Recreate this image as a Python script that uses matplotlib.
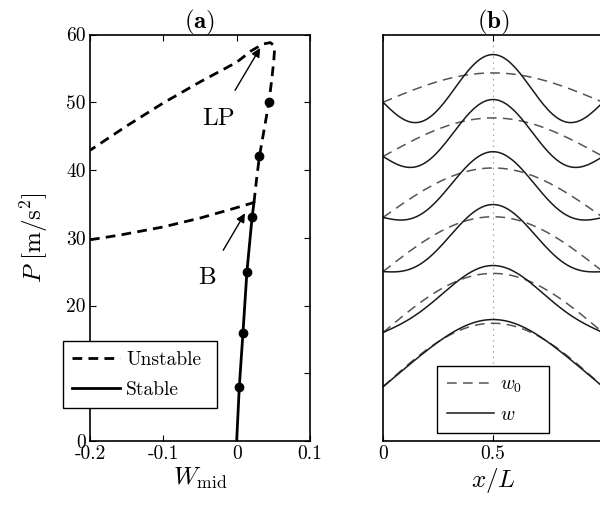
import numpy as np
import matplotlib
matplotlib.use("Agg")
import matplotlib.pyplot as plt

plt.rcParams['font.family'] = 'serif'
plt.rcParams['font.serif'] = ['cmr10', 'DejaVu Serif']
plt.rcParams['mathtext.fontset'] = 'cm'
plt.rcParams['axes.unicode_minus'] = False
plt.rcParams['axes.formatter.use_mathtext'] = True
plt.rcParams['lines.scale_dashes'] = False

# ---------------- data: panel (a) ----------------
stable_W = [0.0, 0.0036, 0.0086, 0.014, 0.021, 0.0236]
stable_P = [0.0, 8.0, 16.0, 25.0, 33.0, 35.2]

unstable_W = [0.0236, 0.027, 0.031, 0.0375, 0.044, 0.048, 0.0505, 0.0515, 0.0505,
              0.046, 0.036, 0.02, 0.0, -0.05, -0.1, -0.15, -0.2]
unstable_P = [35.2, 38.5, 42.0, 46.0, 50.0, 53.5, 56.0, 57.5, 58.4,
              58.8, 58.6, 57.6, 55.9, 53.0, 49.9, 46.5, 42.9]

branch_W = [-0.2, -0.159, -0.1, -0.05, -0.0046, 0.0236]
branch_P = [29.7, 30.4, 31.6, 32.9, 34.3, 35.2]

dots_W = [0.0036, 0.0086, 0.014, 0.021, 0.031, 0.044]
dots_P = [8, 16, 25, 33, 42, 50]

xticks_a = [-0.2, -0.1, 0.0, 0.1]
xticklabels_a = ['-0.2', '-0.1', '0', '0.1']
yticks_a = [0, 10, 20, 30, 40, 50, 60]
yticklabels_a = ['0', '10', '20', '30', '40', '50', '60']

# ---------------- data: panel (b) ----------------
shape_P = [8, 16, 25, 33, 42, 50]          # vertical offset of each pair (load level)
w_mode1 = [9.63, 8.6, 7.3, 6.7, 4.7, 2.74]  # sin(pi x) amplitude of w
w_mode3 = [0.3, 1.3, 2.6, 3.0, 3.7, 4.3]    # -sin(3 pi x) amplitude of w
w0_amp = [9.38, 8.74, 8.1, 7.3, 5.69, 4.33] # sin(pi x) amplitude of w0

xticks_b = [0, 0.5, 1]
xticklabels_b = ['0', '0.5', '1']

# ---------------- figure ----------------
fig = plt.figure(figsize=(6.0, 5.08), dpi=100)
ax1 = fig.add_axes([90/600, 1 - 441/508, 220/600, 406.5/508])
ax2 = fig.add_axes([383/600, 1 - 441/508, 220/600, 406.5/508])

dash_a = (0, (7.0, 4.5))
ax1.plot(branch_W, branch_P, color='black', lw=2.0, linestyle=dash_a)
ax1.plot(unstable_W, unstable_P, color='black', lw=2.0, linestyle=dash_a,
         label='Unstable', solid_joinstyle='round', dash_joinstyle='round')
ax1.plot(stable_W, stable_P, color='black', lw=2.0, linestyle='-', label='Stable')
ax1.plot(dots_W, dots_P, 'o', color='black', ms=6, zorder=4)

ax1.set_xlim(-0.2, 0.1)
ax1.set_ylim(0, 60)
ax1.set_xticks(xticks_a)
ax1.set_xticklabels(xticklabels_a)
ax1.set_yticks(yticks_a)
ax1.set_yticklabels(yticklabels_a)
ax1.tick_params(direction='in', length=4, width=0.8, top=True, right=True,
                labelsize=14, pad=3)
for s in ax1.spines.values():
    s.set_linewidth(1.2)
ax1.set_xlabel(r'$W_{\mathrm{mid}}$', fontsize=18, labelpad=2)
ax1.set_ylabel(r'$P\ [\mathrm{m/s}^2]$', fontsize=18, labelpad=12)
ax1.set_title(r'$(\mathbf{a})$', fontsize=18, pad=4)

ax1.annotate('LP', xy=(0.032, 58.0), xytext=(-0.025, 47.6), fontsize=18,
             ha='center', va='center',
             arrowprops=dict(arrowstyle='-|>', color='black', lw=1.0,
                             mutation_scale=13, shrinkA=12, shrinkB=0))
ax1.annotate('B', xy=(0.0113, 33.6), xytext=(-0.041, 24.0), fontsize=18,
             ha='center', va='center',
             arrowprops=dict(arrowstyle='-|>', color='black', lw=1.0,
                             mutation_scale=13, shrinkA=12, shrinkB=0))

leg1 = ax1.legend(loc='lower left', bbox_to_anchor=(-0.124, 0.08, 0.70, 0.1),
                  mode='expand', fontsize=14,
                  handlelength=2.45, handletextpad=0.3, borderpad=0.5,
                  labelspacing=0.62, fancybox=False, framealpha=1,
                  edgecolor='black', borderaxespad=0)
leg1.get_frame().set_linewidth(1.0)
leg1.set_zorder(10)

# panel (b)
x = np.linspace(0, 1, 301)
ax2.axvline(0.5, color='#999999', lw=0.8, linestyle=(0, (1, 3)), zorder=1)
for i, base in enumerate(shape_P):
    w0 = base + w0_amp[i] * np.sin(np.pi * x)
    w = base + w_mode1[i] * np.sin(np.pi * x) - w_mode3[i] * np.sin(3 * np.pi * x)
    ax2.plot(x, w0, color='#555555', lw=1.1, linestyle=(0, (7, 4.5)),
             label=r'$w_0$' if i == 0 else None)
    ax2.plot(x, w, color='#1a1a1a', lw=1.1, linestyle='-',
             label=r'$w$' if i == 0 else None)

ax2.set_xlim(0, 1)
ax2.set_ylim(0, 60)
ax2.set_xticks(xticks_b)
ax2.set_xticklabels(xticklabels_b)
ax2.set_yticks([])
ax2.tick_params(direction='in', length=4, width=0.8, top=True, labelsize=14, pad=3)
for s in ax2.spines.values():
    s.set_linewidth(1.2)
ax2.set_xlabel(r'$x/L$', fontsize=18, labelpad=2)
ax2.set_title(r'$(\mathbf{b})$', fontsize=18, pad=4)

leg2 = ax2.legend(loc='lower left', bbox_to_anchor=(0.245, 0.019, 0.508, 0.1),
                  mode='expand', fontsize=14,
                  handlelength=2.45, handletextpad=0.3, borderpad=0.5,
                  labelspacing=0.55, fancybox=False, framealpha=1,
                  edgecolor='black', borderaxespad=0)
leg2.get_frame().set_linewidth(1.0)

fig.savefig('out.png', dpi=100)
